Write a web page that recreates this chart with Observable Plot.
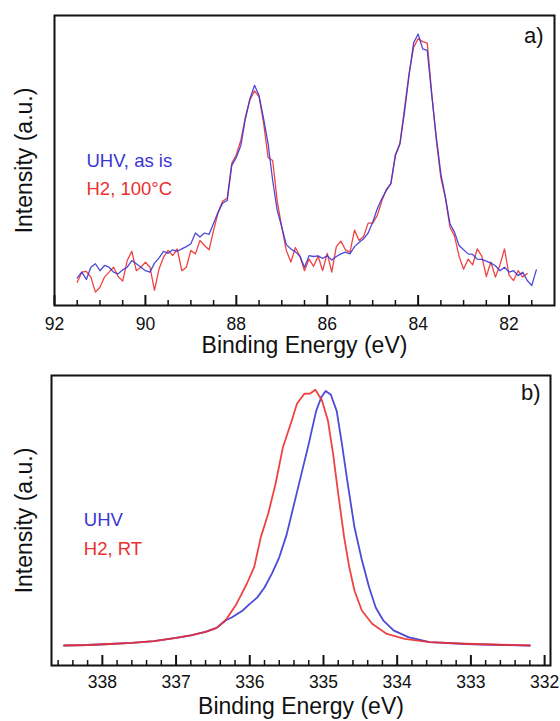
<!DOCTYPE html>
<html>
<head>
<meta charset="utf-8">
<script src="https://cdn.jsdelivr.net/npm/d3@7"></script>
<script src="https://cdn.jsdelivr.net/npm/@observablehq/plot@0.6"></script>
<style>
  html, body { margin: 0; padding: 0; background: #fff; }
  #chart svg { display: block; }
</style>
</head>
<body>
<div id="chart"></div>
<script>
// ---------- Panel a) : Au 4f ----------
const energyA = [91.5, 91.4, 91.3, 91.2, 91.1, 91.0, 90.9, 90.8, 90.7, 90.6, 90.5, 90.4, 90.3, 90.2, 90.1, 90.0,
  89.9, 89.8, 89.7, 89.6, 89.5, 89.4, 89.3, 89.2, 89.1, 89.0, 88.9, 88.8, 88.7, 88.6, 88.5, 88.4, 88.3, 88.2, 88.1, 88.0,
  87.9, 87.8, 87.7, 87.6, 87.5, 87.4, 87.3, 87.2, 87.1, 87.0, 86.9, 86.8, 86.7, 86.6, 86.5, 86.4, 86.3, 86.2, 86.1, 86.0,
  85.9, 85.8, 85.7, 85.6, 85.5, 85.4, 85.3, 85.2, 85.1, 85.0, 84.9, 84.8, 84.7, 84.6, 84.5, 84.4, 84.3, 84.2, 84.1, 84.0,
  83.9, 83.8, 83.7, 83.6, 83.5, 83.4, 83.3, 83.2, 83.1, 83.0, 82.9, 82.8, 82.7, 82.6, 82.5, 82.4, 82.3, 82.2, 82.1, 82.0,
  81.9, 81.8, 81.7, 81.6, 81.5, 81.4];
const uhvA = [9.5, 11.5, 9.0, 13.2, 14.4, 12.0, 13.8, 13.2, 11.5, 10.9, 12.3, 13.2, 15.5, 14.4, 13.2, 12.0,
  11.5, 14.6, 16.4, 18.7, 18.0, 19.2, 18.7, 19.5, 20.3, 21.3, 25.0, 23.6, 25.0, 24.5, 28.4, 32.2, 35.3, 36.2, 48.3, 51.1,
  55.2, 64.4, 71.3, 75.9, 72.4, 64.4, 55.7, 43.1, 32.8, 27.0, 21.0, 19.5, 18.5, 17.0, 13.2, 17.2, 16.9, 17.1, 16.2, 17.2,
  15.7, 16.9, 17.8, 18.4, 17.8, 20.3, 21.7, 23.0, 25.0, 28.7, 33.3, 36.8, 39.7, 42.0, 51.7, 55.7, 66.7, 79.3, 90.5, 93.6,
  88.5, 88.0, 72.4, 58.0, 45.4, 37.4, 28.2, 25.3, 20.7, 19.2, 17.8, 17.6, 16.0, 15.9, 15.3, 14.6, 13.7, 12.0, 13.2, 11.5,
  12.0, 10.3, 11.5, 8.6, 6.9, 12.3];
const h2A = [8.0, 11.5, 11.8, 9.8, 4.6, 6.3, 9.8, 11.5, 13.2, 10.0, 8.4, 15.5, 18.7, 12.0, 13.2, 14.9,
  13.2, 5.2, 12.6, 16.7, 19.0, 17.2, 19.5, 12.0, 13.2, 19.0, 17.8, 22.4, 20.7, 19.2, 25.9, 32.0, 36.0, 37.0, 49.0, 52.0,
  57.0, 65.0, 71.0, 74.0, 72.0, 63.0, 51.0, 50.0, 36.0, 27.0, 19.0, 15.0, 20.0, 17.0, 12.0, 16.0, 13.5, 17.0, 12.0, 18.0,
  11.5, 20.3, 22.2, 19.2, 18.4, 26.0, 22.4, 23.8, 28.4, 28.4, 31.0, 36.0, 40.0, 42.0, 52.0, 56.0, 68.0, 80.0, 89.0, 92.0,
  91.0, 90.5, 73.0, 57.0, 44.0, 37.0, 27.0, 24.0, 17.0, 12.5, 16.0, 14.0, 19.5, 17.0, 10.0, 15.0, 9.8, 14.0, 19.5, 10.5,
  8.6, 12.0, 9.8, 11.0];
const majorTicksA = [92, 90, 88, 86, 84, 82];
const minorTicksA = [91.5, 91, 90.5, 89.5, 89, 88.5, 87.5, 87, 86.5, 85.5, 85, 84.5, 83.5, 83, 82.5, 81.5];
const legendA = ["UHV, as is", "H2, 100°C"];

// ---------- Panel b) : Pd 3d ----------
const energyUhvB = [338.52, 338.2, 337.9, 337.6, 337.3, 337.0, 336.8, 336.6, 336.45, 336.33, 336.24, 336.1, 336.0,
  335.9, 335.8, 335.7, 335.6, 335.5, 335.4, 335.3, 335.2, 335.1, 335.03, 334.97, 334.9, 334.82, 334.75, 334.67,
  334.58, 334.48, 334.38, 334.29, 334.19, 334.05, 333.85, 333.56, 333.07, 332.6, 332.2];
const uhvB = [0.0, 0.002, 0.006, 0.010, 0.017, 0.030, 0.040, 0.054, 0.070, 0.099, 0.112, 0.138, 0.165,
  0.19, 0.23, 0.285, 0.35, 0.44, 0.56, 0.68, 0.80, 0.93, 0.985, 1.01, 0.995, 0.93, 0.80, 0.64,
  0.47, 0.34, 0.23, 0.15, 0.10, 0.06, 0.033, 0.013, 0.006, 0.002, 0.0];
const energyH2B = [338.52, 338.2, 337.9, 337.6, 337.3, 337.0, 336.8, 336.6, 336.45, 336.33, 336.18, 336.04, 335.94,
  335.85, 335.75, 335.65, 335.55, 335.43, 335.36, 335.26, 335.18, 335.11, 335.02, 334.94, 334.87, 334.8, 334.72,
  334.65, 334.58, 334.48, 334.34, 334.14, 333.9, 333.56, 333.07, 332.6, 332.2];
const h2B = [0.0, 0.002, 0.006, 0.010, 0.017, 0.030, 0.040, 0.054, 0.070, 0.099, 0.165, 0.245, 0.311,
  0.43, 0.523, 0.642, 0.787, 0.893, 0.959, 0.999, 1.0, 1.015, 0.972, 0.893, 0.761, 0.602, 0.43,
  0.311, 0.218, 0.139, 0.086, 0.046, 0.026, 0.013, 0.007, 0.003, 0.0];
const majorTicksB = [338, 337, 336, 335, 334, 333, 332];
const minorTicksB = [338.6, 338.4, 338.2, 337.8, 337.6, 337.4, 337.2, 336.8, 336.6, 336.4, 336.2, 335.8, 335.6,
  335.4, 335.2, 334.8, 334.6, 334.4, 334.2, 333.8, 333.6, 333.4, 333.2, 332.8, 332.6, 332.4, 332.2];
const legendB = ["UHV", "H2, RT"];

const xTitle = "Binding Energy (eV)";
const yTitle = "Intensity (a.u.)";
const BLUE = "#3a36d4";
const RED = "#ec2f2f";
const INK = "#111";
const FONT = "'Liberation Sans', Arial, Helvetica, sans-serif";

const toRows = (xs, ys) => ys.map((v, i) => ({e: xs[i], v}));

function panel({width, height, margins, xDomain, yDomain, majors, minors, tickPadding,
                uhv, h2, legend, tag, tagDx, tagDy, titleDy, yTitleDx, legendDx, legendDy, lineWidth, drawRedOnTop}) {
  const frameH = height - margins[0] - margins[2];
  // convert a tick length in pixels into y-data units (ticks point inward from the bottom edge)
  const yAt = (px) => yDomain[0] + px * (yDomain[1] - yDomain[0]) / frameH;
  const blueLine = Plot.line(uhv, {x: "e", y: "v", stroke: BLUE, strokeWidth: lineWidth, strokeOpacity: 0.9});
  const redLine = Plot.line(h2, {x: "e", y: "v", stroke: RED, strokeWidth: lineWidth, strokeOpacity: 0.9});
  return Plot.plot({
    width, height,
    marginTop: margins[0], marginRight: margins[1], marginBottom: margins[2], marginLeft: margins[3],
    style: {fontFamily: FONT, fontSize: "17.5px", color: INK, background: "#fff"},
    x: {domain: xDomain, ticks: majors, tickSize: 0, tickPadding, tickFormat: d => String(d), label: null},
    y: {domain: yDomain, axis: null},
    marks: [
      drawRedOnTop ? blueLine : redLine,
      drawRedOnTop ? redLine : blueLine,
      Plot.ruleX(minors, {x: d => d, y1: () => yAt(0), y2: () => yAt(5), stroke: INK, strokeWidth: 1.5}),
      Plot.ruleX(majors, {x: d => d, y1: () => yAt(0), y2: () => yAt(10), stroke: INK, strokeWidth: 2}),
      Plot.frame({stroke: INK, strokeWidth: 2}),
      Plot.text([legend[0]], {frameAnchor: "left", textAnchor: "start", lineAnchor: "middle", dx: legendDx, dy: legendDy[0], fill: BLUE, fontSize: 18.5}),
      Plot.text([legend[1]], {frameAnchor: "left", textAnchor: "start", lineAnchor: "middle", dx: legendDx, dy: legendDy[1], fill: RED, fontSize: 18.5}),
      Plot.text([tag], {frameAnchor: "top-right", textAnchor: "end", lineAnchor: "middle", dx: tagDx, dy: tagDy, fill: INK, fontSize: 22}),
      Plot.text([xTitle], {frameAnchor: "bottom", textAnchor: "middle", lineAnchor: "middle", dy: titleDy, fill: INK, fontSize: 23}),
      Plot.text([yTitle], {frameAnchor: "left", textAnchor: "middle", lineAnchor: "middle", rotate: -90, dx: yTitleDx, fill: INK, fontSize: 23})
    ]
  });
}

const chartA = panel({
  width: 560, height: 362, margins: [15, 6, 57, 54],
  xDomain: [92, 81], yDomain: [0, 100],
  majors: majorTicksA, minors: minorTicksA, tickPadding: 12,
  uhv: toRows(energyA, uhvA), h2: toRows(energyA, h2A),
  legend: legendA, tag: "a)", tagDx: -11, tagDy: 20, titleDy: 40.5, yTitleDx: -30,
  legendDx: 32, legendDy: [0.6, 28.7], lineWidth: 1.3, drawRedOnTop: false
});
const chartB = panel({
  width: 560, height: 359, margins: [13, 10, 56, 51],
  xDomain: [338.69, 331.92], yDomain: [-0.0794, 1.0714],
  majors: majorTicksB, minors: minorTicksB, tickPadding: 10,
  uhv: toRows(energyUhvB, uhvB), h2: toRows(energyH2B, h2B),
  legend: legendB, tag: "b)", tagDx: -10, tagDy: 17, titleDy: 41.6, yTitleDx: -27,
  legendDx: 32.3, legendDy: [0, 28.3], lineWidth: 1.8, drawRedOnTop: true
});
document.getElementById("chart").append(chartA, chartB);
</script>
</body>
</html>
